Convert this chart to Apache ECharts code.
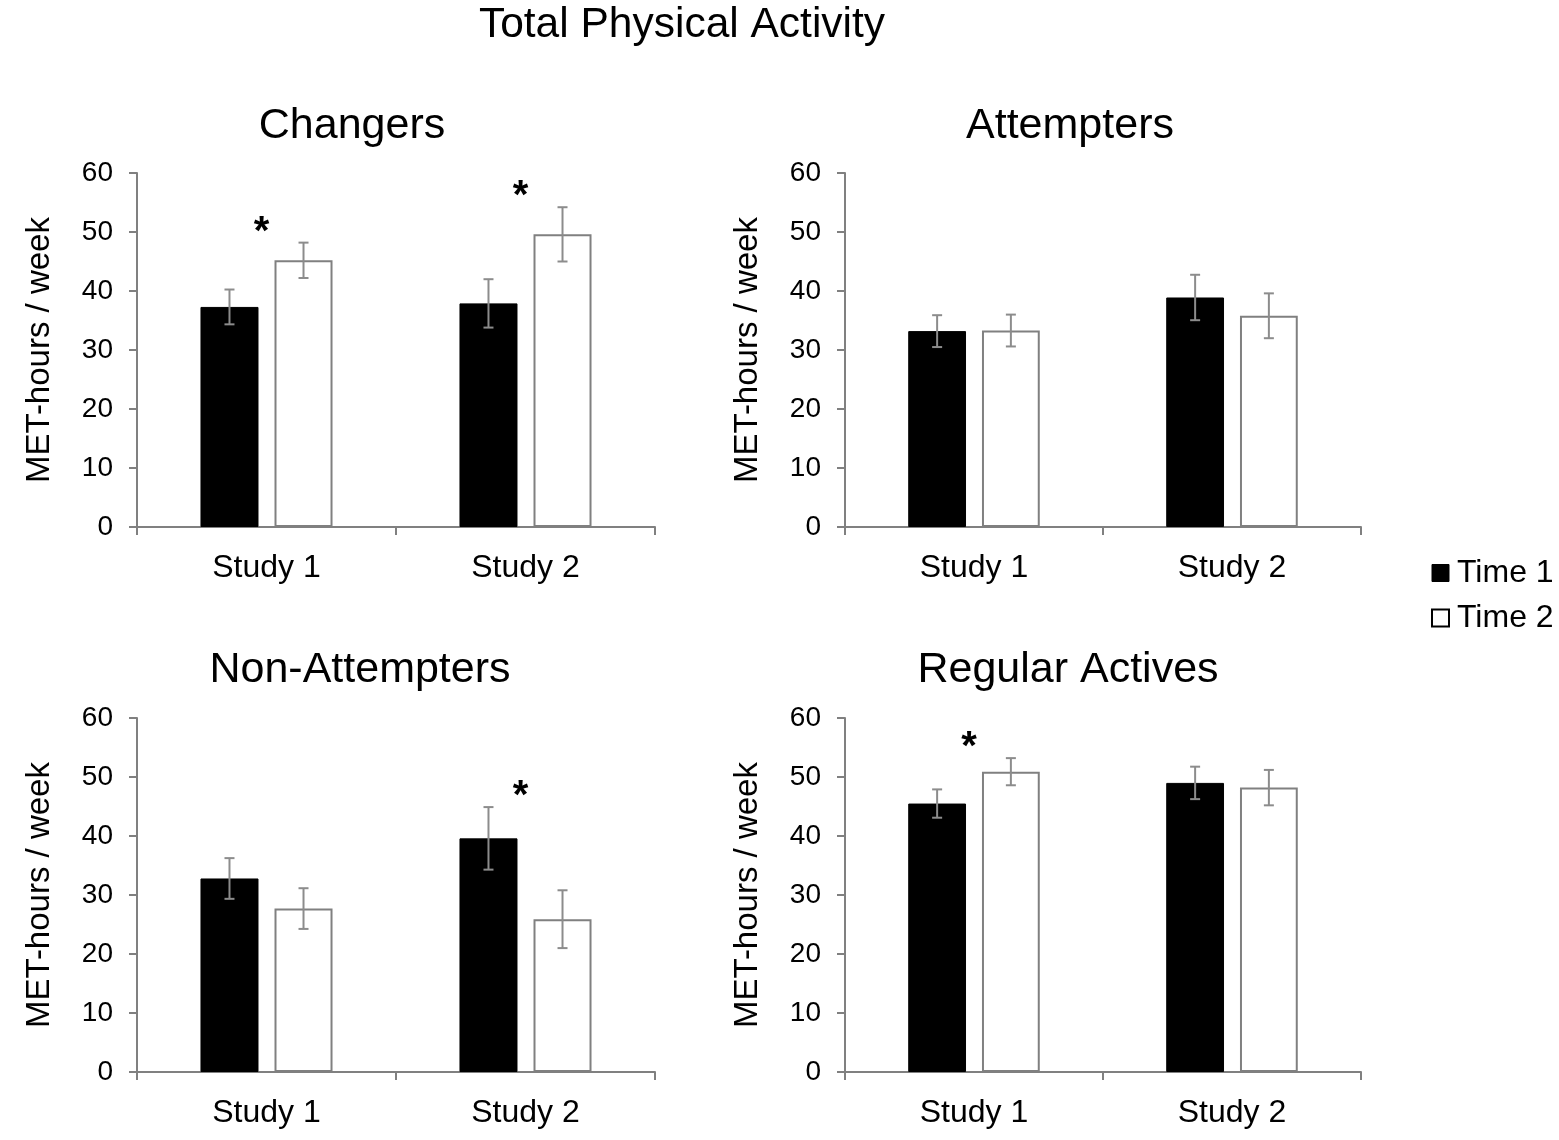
<!DOCTYPE html>
<html><head><meta charset="utf-8">
<script src="https://cdn.jsdelivr.net/npm/echarts@6/dist/echarts.min.js"></script>
<style>html,body{margin:0;padding:0;background:#fff}#c{width:1559px;height:1140px}</style>
</head><body><div id="c"></div><script>
// ---- data ----
const categories = ['Study 1', 'Study 2'];
const panelTitles = ['Changers', 'Attempters', 'Non-Attempters', 'Regular Actives'];
const seriesNames = ['Time 1', 'Time 2'];
const yMin = 0, yMax = 60, yInterval = 10;

const changersT1 = [37.3, 37.9];
const changersT1Err = [2.95, 4.1];
const changersT2 = [45.2, 49.6];
const changersT2Err = [3.0, 4.6];
const changersSig = [1, 1];

const attemptersT1 = [33.2, 38.9];
const attemptersT1Err = [2.7, 3.85];
const attemptersT2 = [33.3, 35.8];
const attemptersT2Err = [2.7, 3.8];
const attemptersSig = [0, 0];

const nonAttemptersT1 = [32.8, 39.6];
const nonAttemptersT1Err = [3.45, 5.3];
const nonAttemptersT2 = [27.7, 25.9];
const nonAttemptersT2Err = [3.45, 4.9];
const nonAttemptersSig = [0, 1];

const regularT1 = [45.5, 49.0];
const regularT1Err = [2.4, 2.75];
const regularT2 = [50.9, 48.2];
const regularT2Err = [2.3, 3.0];
const regularSig = [1, 0];

// ---- build ----
const panelData = [
  [changersT1, changersT1Err, changersT2, changersT2Err, changersSig],
  [attemptersT1, attemptersT1Err, attemptersT2, attemptersT2Err, attemptersSig],
  [nonAttemptersT1, nonAttemptersT1Err, nonAttemptersT2, nonAttemptersT2Err, nonAttemptersSig],
  [regularT1, regularT1Err, regularT2, regularT2Err, regularSig]
];
const FONT = 'Liberation Sans, Arial, sans-serif';
const AXIS = '#808080';
const ERR = '#8c8c8c';
const BARW = 0.224, GAPR = 0.276;

const grids = [
  {left: 137, top: 173, width: 518, height: 354},
  {left: 845, top: 173, width: 516, height: 354},
  {left: 137, top: 718, width: 518, height: 354},
  {left: 845, top: 718, width: 516, height: 354}
];
const titlePos = [[347, 100], [1065, 100], [355, 644], [1063, 644]];

function errRender(sign) {
  return function (params, api) {
    const x = api.value(0), v = api.value(1), e = api.value(2);
    const band = api.size([1, 0])[0];
    const bw = band * BARW, gap = bw * GAPR;
    const dx = sign * (bw + gap) / 2;
    const t = api.coord([x, v + e]);
    const b = api.coord([x, v - e]);
    const cx = t[0] + dx, hw = 5;
    const st = {stroke: ERR, lineWidth: 2};
    return {type: 'group', children: [
      {type: 'line', shape: {x1: cx, y1: t[1], x2: cx, y2: b[1]}, style: st},
      {type: 'line', shape: {x1: cx - hw, y1: t[1], x2: cx + hw, y2: t[1]}, style: st},
      {type: 'line', shape: {x1: cx - hw, y1: b[1], x2: cx + hw, y2: b[1]}, style: st}
    ]};
  };
}
function starRender(params, api) {
  const x = api.value(0), v = api.value(1);
  const p = api.coord([x, v]);
  return {type: 'text', x: p[0] - 5, y: p[1] - 10,
    style: {text: '*', fill: '#000', font: 'bold 40px ' + FONT, align: 'center', verticalAlign: 'middle'}};
}

const xAxis = [], yAxis = [], series = [], title = [];
title.push({text: 'Total Physical Activity', left: 677, top: -1, textAlign: 'center',
  textStyle: {fontFamily: FONT, fontSize: 42.5, fontWeight: 'normal', color: '#000'}});

panelData.forEach((pd, i) => {
  const [t1, t1e, t2, t2e, sig] = pd;
  title.push({text: panelTitles[i], left: titlePos[i][0], top: titlePos[i][1], textAlign: 'center',
    textStyle: {fontFamily: FONT, fontSize: 43, fontWeight: 'normal', color: '#000'}});
  xAxis.push({type: 'category', gridIndex: i, data: categories,
    axisLine: {lineStyle: {color: AXIS, width: 2}},
    axisTick: {show: true, length: 8, lineStyle: {color: AXIS, width: 2}},
    axisLabel: {fontFamily: FONT, fontSize: 32, color: '#000', margin: 25}});
  yAxis.push({type: 'value', gridIndex: i, min: yMin, max: yMax, interval: yInterval,
    name: 'MET-hours / week', nameLocation: 'middle', nameGap: 81,
    nameTextStyle: {fontFamily: FONT, fontSize: 33, color: '#000'},
    axisLine: {show: true, lineStyle: {color: AXIS, width: 2}},
    axisTick: {show: true, length: 8, lineStyle: {color: AXIS, width: 2}},
    splitLine: {show: false},
    axisLabel: {fontFamily: FONT, fontSize: 28, color: '#000', margin: 24}});
  series.push({type: 'bar', name: seriesNames[0], xAxisIndex: i, yAxisIndex: i, data: t1,
    barWidth: (BARW * 100) + '%', barGap: (GAPR * 100) + '%',
    itemStyle: {color: '#000', borderColor: '#000', borderWidth: 1}});
  series.push({type: 'bar', name: seriesNames[1], xAxisIndex: i, yAxisIndex: i, data: t2,
    barWidth: (BARW * 100) + '%', barGap: (GAPR * 100) + '%',
    itemStyle: {color: '#fff', borderColor: AXIS, borderWidth: 2}});
  series.push({type: 'custom', xAxisIndex: i, yAxisIndex: i, z: 3,
    data: t1.map((v, k) => [k, v, t1e[k]]), renderItem: errRender(-1)});
  series.push({type: 'custom', xAxisIndex: i, yAxisIndex: i, z: 3,
    data: t2.map((v, k) => [k, v, t2e[k]]), renderItem: errRender(1)});
  const stars = [];
  sig.forEach((s, k) => { if (s) stars.push([k, Math.max(t1[k] + t1e[k], t2[k] + t2e[k])]); });
  series.push({type: 'custom', xAxisIndex: i, yAxisIndex: i, z: 4, data: stars, renderItem: starRender});
});

const chart = echarts.init(document.getElementById('c'));
chart.setOption({
  backgroundColor: '#fff',
  animation: false,
  title: title,
  grid: grids,
  xAxis: xAxis,
  yAxis: yAxis,
  legend: {orient: 'vertical', left: 1426, top: 552, itemWidth: 17, itemHeight: 17, itemGap: 13,
    selectedMode: false, icon: 'rect',
    textStyle: {fontFamily: FONT, fontSize: 32, color: '#000', padding: [0, 0, 0, 3]},
    data: [
      {name: 'Time 1', itemStyle: {color: '#000', borderColor: '#000', borderWidth: 1}},
      {name: 'Time 2', itemStyle: {color: '#fff', borderColor: '#000', borderWidth: 2}}
    ]},
  series: series
});
</script></body></html>
